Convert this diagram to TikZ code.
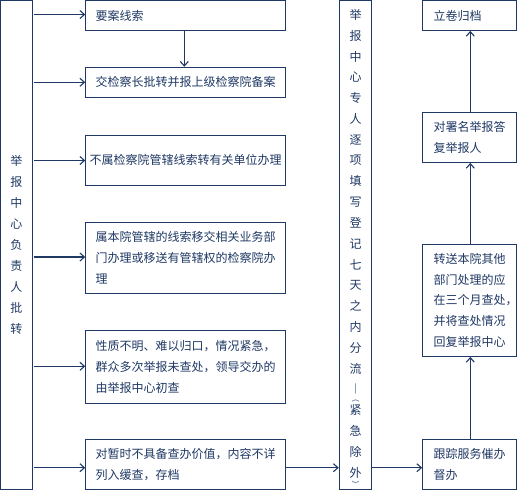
\documentclass[tikz,border=0pt]{standalone}
\usepackage{fontspec}
\newfontfamily\cjk{Noto Sans CJK SC}
\usetikzlibrary{arrows.meta}
\definecolor{navy}{RGB}{31,56,100}
\tikzset{
  box/.style={draw=navy, line width=1.1pt, rectangle, inner sep=0pt, text=navy,
    font=\cjk\fontsize{12}{20.8}\selectfont},
  lbox/.style={box, text width=180pt, align=left},
  rbox/.style={box, text width=72pt, align=left},
  vchar/.style={text=navy, inner sep=0pt, font=\cjk\fontsize{12}{14}\selectfont},
  pchar/.style={text=navy, inner sep=0pt, font=\cjk\fontsize{7.5}{9}\selectfont},
  arr/.style={draw=navy, line width=1.1pt, -{Straight Barb[length=4.5pt,width=8pt]}},
  ln/.style={draw=navy, line width=1.1pt}
}
\begin{document}
\begin{tikzpicture}[x=1pt,y=-1pt]
\useasboundingbox (0,0) rectangle (517,490);
% left and middle columns
\node[box, minimum width=31.7pt, minimum height=488.8pt, text width=14pt, align=center,
  font=\cjk\fontsize{12}{20.9}\selectfont] (L) at (16.45,245)
  {举\\报\\中\\心\\负\\责\\人\\批\\转};
\node[box, minimum width=32pt, minimum height=488.8pt] (M) at (355.3,245) {};
\foreach \c [count=\i from 0] in {举,报,中,心,专,人,逐,项,填,写,登,记,七,天,之,内,分,流,︱,紧,急,除,外}
  \node[vchar] (m\i) at (355.6,{15+20.8*\i}) {\c};
\node[pchar] (mp1) at (355.6,400.6) {︵};
\node[pchar] (mp2) at (355.6,484.3) {︶};
% left boxes
\node[lbox, minimum width=199.6pt, minimum height=29.7pt] (b1) at (185.6,15.45) {要案线索};
\node[lbox, minimum width=199.6pt, minimum height=30pt] (b2) at (185.6,82.3) {交检察长批转并报上级检察院备案};
\node[box, text width=192pt, align=center, minimum width=199.6pt, minimum height=49.7pt] (b3) at (185.6,160.2) {不属检察院管辖线索转有关单位办理};
\node[lbox, minimum width=199.6pt, minimum height=71pt] (b4) at (185.6,257.8) {属本院管辖的线索移交相关业务部\\门办理或移送有管辖权的检察院办\\理};
\node[lbox, minimum width=199.6pt, minimum height=73.3pt] (b5) at (185.6,366.7) {性质不明、难以归口，情况紧急，\\群众多次举报未查处，领导交办的\\由举报中心初查};
\node[lbox, minimum width=199.6pt, minimum height=50.1pt] (b6) at (185.6,464.35) {对暂时不具备查办价值，内容不详\\列入缓查，存档};
% right boxes
\node[rbox, minimum width=93.7pt, minimum height=29.7pt] (r1) at (469.55,15.45) {立卷归档};
\node[rbox, minimum width=93.7pt, minimum height=50.3pt] (r2) at (469.55,137.2) {对署名举报答\\复举报人};
\node[rbox, minimum width=93.7pt, minimum height=112pt] (r3) at (469.55,300.3) {转送本院其他\\部门处理的应\\在三个月查处，\\并将查处情况\\回复举报中心};
\node[rbox, minimum width=93.7pt, minimum height=50.1pt] (r4) at (469.55,464.35) {跟踪服务催办\\督办};
% connectors from left column
\draw[arr, shorten <=1.6pt] (L.east |- 0,14.5) -- (b1.west |- 0,14.5);
\draw[arr, shorten <=1.6pt] (L.east |- 0,82.3) -- (b2.west |- 0,82.3);
\draw[arr, shorten <=1.6pt] (L.east |- 0,160.5) -- (b3.west |- 0,160.5);
\draw[arr, shorten <=1.6pt] (L.east |- 0,257) -- (b4.west |- 0,257);
\draw[arr, shorten <=1.6pt] (L.east |- 0,366.3) -- (b5.west |- 0,366.3);
\draw[arr, shorten <=1.6pt] (L.east |- 0,467.7) -- (b6.west |- 0,467.7);
\draw[arr] (b1.south -| 184.3,0) -- (b2.north -| 184.3,0);
% flow to the right
\draw[arr] (b6.east |- 0,467.7) -- (M.west |- 0,467.7);
\draw[arr] (M.east |- 0,467.7) -- (r4.west |- 0,467.7);
\draw[arr] (r4.north -| 470.3,0) -- (r3.south -| 470.3,0);
\draw[arr] (r3.north -| 470.3,0) -- (r2.south -| 470.3,0);
\draw[arr] (r2.north -| 470.3,0) -- (r1.south -| 470.3,0);
\end{tikzpicture}
\end{document}
